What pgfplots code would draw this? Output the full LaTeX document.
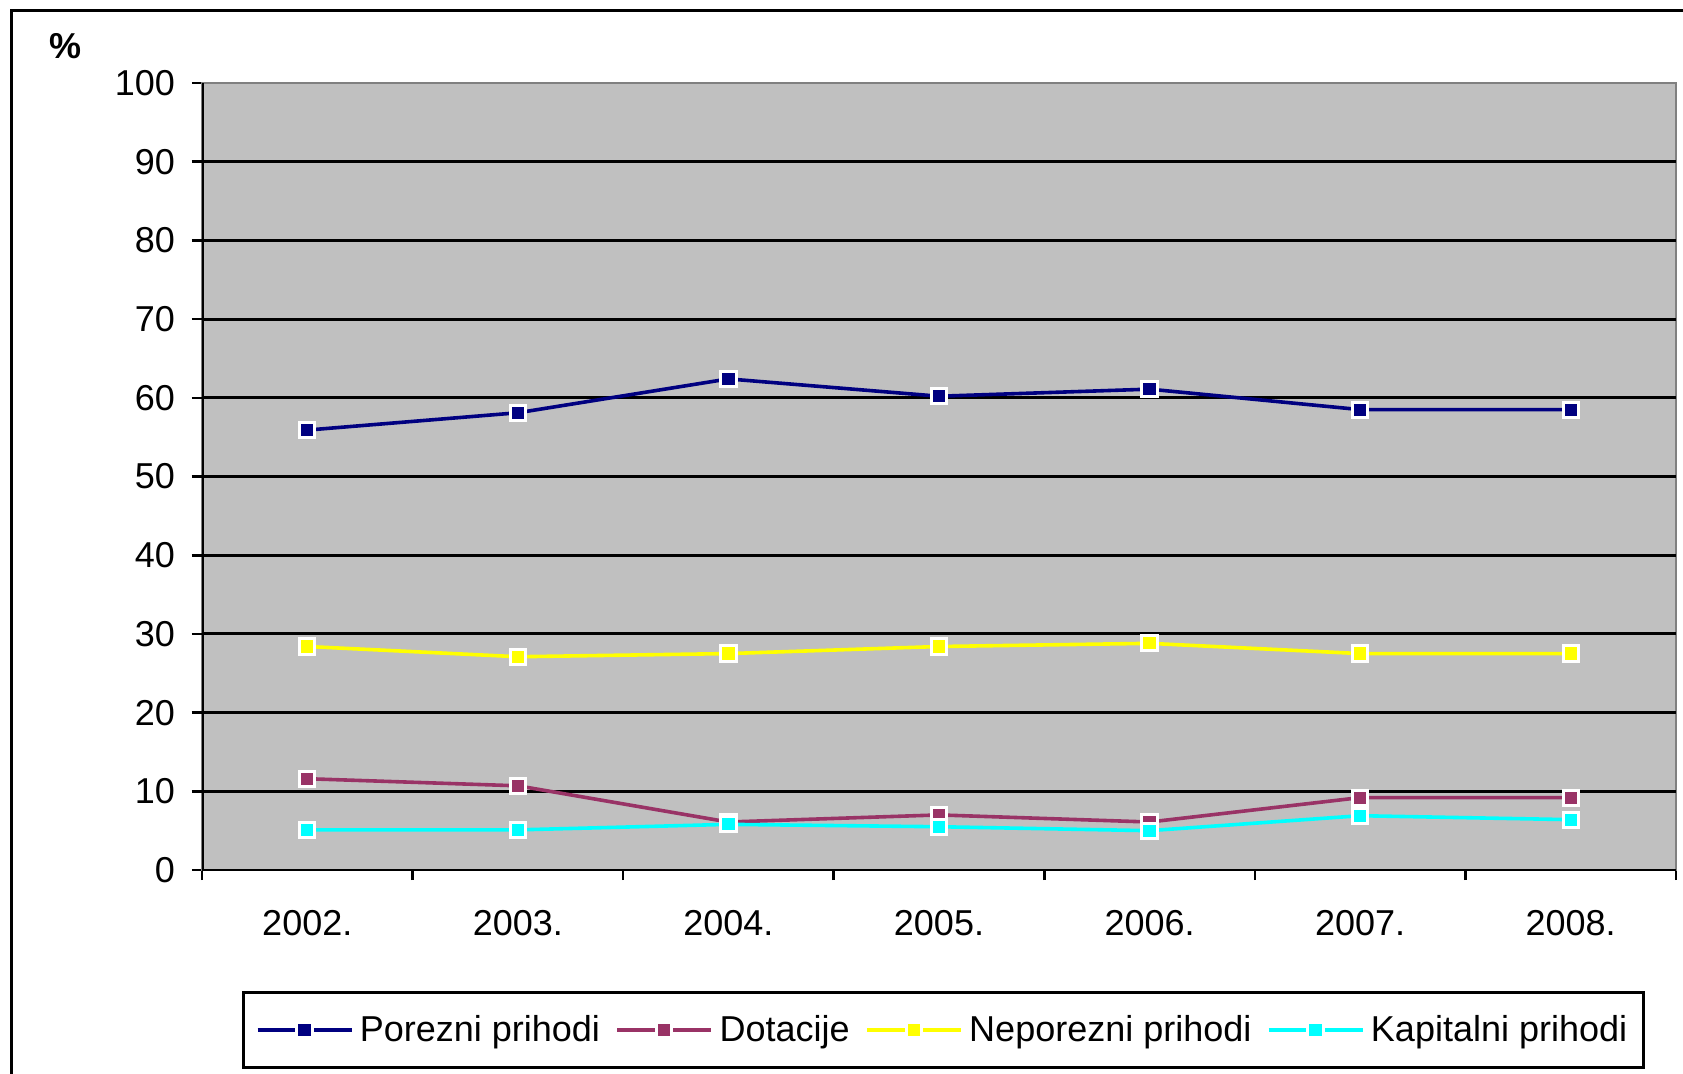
\documentclass[border=0pt]{standalone}
\usepackage{fontspec}
\setmainfont{Liberation Sans}
\usepackage{pgfplots}
\pgfplotsset{compat=1.18}
\definecolor{porezni}{HTML}{000080}
\definecolor{dotacije}{HTML}{993366}
\definecolor{neporezni}{HTML}{FFFF00}
\definecolor{kapitalni}{HTML}{00FFFF}
\definecolor{plotbg}{HTML}{C0C0C0}
\definecolor{edgegray}{HTML}{808080}
\newcommand{\chartfont}{\fontsize{18bp}{21bp}\selectfont}
\begin{document}
\begin{tikzpicture}
\path[use as bounding box] (0,0) rectangle (841.5bp,-537bp);
\draw[line width=1.5bp] (5.5bp,-545bp) -- (5.5bp,-5bp) -- (850bp,-5bp);
\node[font=\bfseries\chartfont] at (33bp,-23bp) {\%};
\begin{axis}[
  at={(101bp,-435bp)}, anchor=south west,
  scale only axis, width=737bp, height=393.5bp,
  xmin=-0.5, xmax=6.5, ymin=0, ymax=100,
  ytick={0,10,...,100},
  xtick={-0.5,0.5,...,6.5}, xticklabels={},
  extra x ticks={0,1,2,3,4,5,6},
  extra x tick labels={2002.,2003.,2004.,2005.,2006.,2007.,2008.},
  extra x tick style={major tick length=0pt, xticklabel style={yshift=-16.5bp}},
  extra y ticks={10,20,...,90},
  extra y tick labels={},
  extra y tick style={grid=major},
  xtick pos=bottom, ytick pos=left,
  tick align=outside, major tick length=5bp,
  tick style={black, line width=1.3bp},
  grid style={black, line width=1.5bp},
  axis line style={edgegray, line width=1bp},
  axis background/.style={fill=plotbg},
  tick label style={font=\chartfont},
  yticklabel style={xshift=-5bp},
  /pgf/number format/assume math mode=true,
  legend columns=4,
  legend cell align=left,
  legend style={at={(0.503,-0.2033)}, anchor=center, draw=black, line width=1.2bp,
    font=\chartfont, inner xsep=6.1bp, inner ysep=9.4bp,
    /tikz/every odd column/.append style={column sep=1.3bp},
    /tikz/every even column/.append style={column sep=5.7bp}},
  legend image code/.code={\draw[#1, mark repeat=2, mark phase=2] plot coordinates {(0bp,0bp) (23.5bp,0bp) (47bp,0bp)};},
]
\addplot[porezni, line width=1.8bp, mark=square*, mark size=3.8bp, mark options={fill=porezni, draw=white, line width=1.5bp}]
  coordinates {(0,55.9) (1,58.1) (2,62.4) (3,60.2) (4,61.1) (5,58.5) (6,58.5)};
\addlegendentry{Porezni prihodi}
\addplot[dotacije, line width=1.8bp, mark=square*, mark size=3.8bp, mark options={fill=dotacije, draw=white, line width=1.5bp}]
  coordinates {(0,11.6) (1,10.7) (2,6.1) (3,7.0) (4,6.1) (5,9.2) (6,9.2)};
\addlegendentry{Dotacije}
\addplot[neporezni, line width=1.8bp, mark=square*, mark size=3.8bp, mark options={fill=neporezni, draw=white, line width=1.5bp}]
  coordinates {(0,28.4) (1,27.1) (2,27.5) (3,28.4) (4,28.8) (5,27.5) (6,27.5)};
\addlegendentry{Neporezni prihodi}
\addplot[kapitalni, line width=1.8bp, mark=square*, mark size=3.8bp, mark options={fill=kapitalni, draw=white, line width=1.5bp}]
  coordinates {(0,5.1) (1,5.1) (2,5.8) (3,5.5) (4,5.0) (5,6.9) (6,6.4)};
\addlegendentry{Kapitalni prihodi}
\draw[black, line width=1.5bp] (rel axis cs:0,1) -- (rel axis cs:0,0) -- (rel axis cs:1,0);
\end{axis}
\end{tikzpicture}
\end{document}
